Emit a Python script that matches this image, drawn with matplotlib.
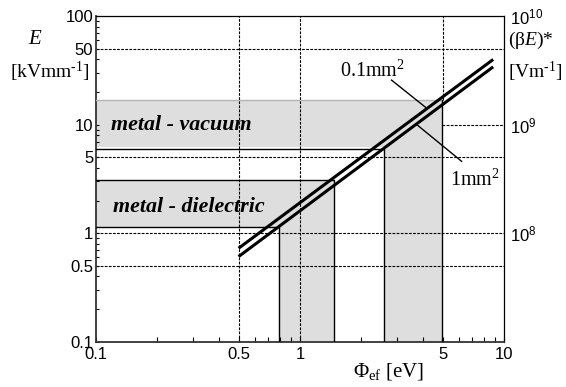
import matplotlib
matplotlib.use("Agg")
import matplotlib.pyplot as plt

plt.rcParams['mathtext.fontset'] = 'custom'
plt.rcParams['mathtext.rm'] = 'Liberation Serif'
plt.rcParams['mathtext.it'] = 'Liberation Serif:italic'
plt.rcParams['font.family'] = ['Liberation Sans', 'DejaVu Sans']

# ---- data ----
phi_line = [0.5, 8.85]              # work function range of the lines [eV]
E_line_01mm2 = [0.727, 40.0]        # 0.1 mm^2
E_line_1mm2 = [0.609, 34.2]         # 1 mm^2

# metal - vacuum region
vac_E = [6.0, 17.0]
vac_phi = [2.58, 4.98]
# metal - dielectric region
die_E = [1.13, 3.08]
die_phi = [0.79, 1.46]

x_ticks = [0.1, 0.5, 1, 5, 10]
x_ticklabels = ["0.1", "0.5", "1", "5", "10"]
y_ticks = [0.1, 0.5, 1, 5, 10, 50, 100]
y_ticklabels = ["0.1", "0.5", "1", "5", "10", "50", "100"]
x_grid = [0.5, 1]
y_grid = [0.5, 1, 5, 50]
right_ticks = [1e8, 1e9, 1e10]

XMIN, XMAX, YMIN, YMAX = 0.1, 10, 0.1, 100
GREY = '#dedede'
DASH = (0, (2.5, 1.2))

fig = plt.figure(figsize=(5.66, 3.87), dpi=100)
ax = fig.add_axes([96/566, 1-341.7/387, 408/566, (341.7-16.3)/387])
ax.set_xscale('log'); ax.set_yscale('log')
ax.set_xlim(XMIN, XMAX); ax.set_ylim(YMIN, YMAX)

# grey areas
ax.fill_between([XMIN, vac_phi[1]], vac_E[0]*1.04, vac_E[1], color=GREY, lw=0, zorder=1)
ax.fill_between([vac_phi[0]*1.01, vac_phi[1]], YMIN, vac_E[1], color=GREY, lw=0, zorder=1)
ax.fill_between([XMIN, die_phi[1]], die_E[0], die_E[1], color=GREY, lw=0, zorder=1)
ax.fill_between([die_phi[0]*1.01, die_phi[1]], YMIN, die_E[1], color=GREY, lw=0, zorder=1)

# gridlines
for gx in x_grid:
    ax.axvline(gx, color='black', lw=0.8, ls=DASH, zorder=2)
for gy in y_grid:
    ax.axhline(gy, color='black', lw=0.8, ls=DASH, zorder=2)
ax.plot([vac_phi[1], XMAX], [10, 10], color='black', lw=0.8, ls=DASH, zorder=2)
ax.plot([5, 5], [vac_E[1], YMAX], color='black', lw=0.8, ls=DASH, zorder=2)

# region outlines
ax.plot([XMIN, vac_phi[1]], [vac_E[1], vac_E[1]], color='#b5b5b5', lw=1.0, zorder=3)
ax.plot([XMIN, vac_phi[0], vac_phi[0]], [vac_E[0], vac_E[0], YMIN], color='black', lw=1.0, zorder=3)
ax.plot([vac_phi[1], vac_phi[1]], [YMIN, vac_E[1]], color='black', lw=1.0, zorder=3)
ax.plot([XMIN, die_phi[1], die_phi[1]], [die_E[1], die_E[1], YMIN], color='black', lw=1.0, zorder=3)
ax.plot([XMIN, die_phi[0], die_phi[0]], [die_E[0], die_E[0], YMIN], color='black', lw=1.0, zorder=3)

# the two lines
ax.plot(phi_line, E_line_01mm2, color='black', lw=2.2, zorder=4, solid_capstyle='butt')
ax.plot(phi_line, E_line_1mm2, color='black', lw=2.2, zorder=4, solid_capstyle='butt')

# annotations
ax.plot([2.81, 4.18], [25.8, 14.2], color='black', lw=1.0, zorder=4)
ax.plot([3.72, 6.2], [10.1, 4.6], color='black', lw=1.0, zorder=4)
ax.text(1.57, 27.5, r"0.1mm$^{\mathregular{2}}$", family='Liberation Serif', fontsize=14.5,
        va='baseline', ha='left', zorder=5)
ax.text(5.45, 3.85, r"1mm$^{\mathregular{2}}$", family='Liberation Serif', fontsize=14.5,
        va='top', ha='left', zorder=5)
ax.text(0.118, 9.9, "metal - vacuum", family='Liberation Serif', fontsize=15.8,
        fontweight='bold', fontstyle='italic', va='center', ha='left', zorder=5)
ax.text(0.1206, 1.75, "metal - dielectric", family='Liberation Serif', fontsize=15.8,
        fontweight='bold', fontstyle='italic', va='center', ha='left', zorder=5)

# ticks
from matplotlib.ticker import FixedLocator, FixedFormatter, NullFormatter
xminor = [m*10**e for e in (-1, 0) for m in range(2, 10) if m != 5]
yminor = [m*10**e for e in (-1, 0, 1) for m in range(2, 10) if m != 5]
ax.xaxis.set_major_locator(FixedLocator(x_ticks))
ax.xaxis.set_major_formatter(FixedFormatter(x_ticklabels))
ax.xaxis.set_minor_locator(FixedLocator(xminor))
ax.xaxis.set_minor_formatter(NullFormatter())
ax.yaxis.set_major_locator(FixedLocator(y_ticks))
ax.yaxis.set_major_formatter(FixedFormatter(y_ticklabels))
ax.yaxis.set_minor_locator(FixedLocator(yminor))
ax.yaxis.set_minor_formatter(NullFormatter())
ax.tick_params(axis='x', which='both', direction='in', length=3.5, width=0.8,
               labelsize=12, pad=4, top=False)
ax.tick_params(axis='y', which='both', direction='in', length=2.5, width=0.8,
               labelsize=12, pad=2, right=False)
for s in ('left', 'bottom'):
    ax.spines[s].set_linewidth(1.3)
    ax.spines[s].set_color('#333333')
for s in ('top', 'right'):
    ax.spines[s].set_linewidth(0.9)

ax2 = ax.twinx()
ax2.set_yscale('log')
ax2.set_ylim(YMIN*1e8, YMAX*1e8)
ax2.yaxis.set_major_locator(FixedLocator(right_ticks))
ax2.yaxis.set_minor_locator(FixedLocator([]))
ax2.tick_params(axis='y', which='both', length=0, labelsize=12, pad=4)
for s in ax2.spines.values():
    s.set_visible(False)

# axis titles
fig.text(35/566, 1-40/387, "E", family='Liberation Serif', fontstyle='italic', fontsize=15,
         ha='center', va='center')
fig.text(50/566, 1-72/387, r"[kVmm$^{\text{-1}}$]", family='Liberation Serif', fontsize=14,
         ha='center', va='center')
fig.text(508/566, 1-40/387, r"($\mathregular{\beta}$$\mathit{E}$)*", family='Liberation Serif', fontsize=14,
         ha='left', va='center')
fig.text(508/566, 1-72/387, r"[Vm$^{\text{-1}}$]", family='Liberation Serif', fontsize=14,
         ha='left', va='center')
fig.text(389/566, 1-372/387, r"Φ$_{\mathregular{ef}}$ [eV]", family='Liberation Serif', fontsize=15,
         ha='center', va='center')

fig.savefig("out.png", dpi=100)
